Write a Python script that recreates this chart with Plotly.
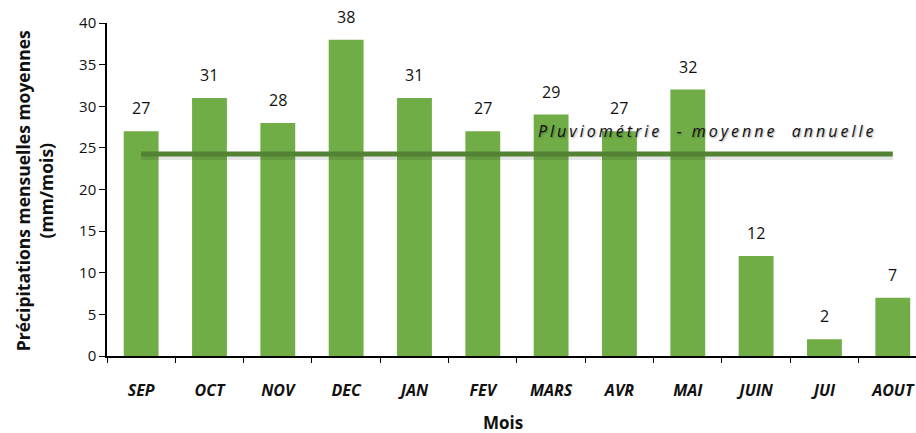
import plotly.graph_objects as go

months = ["SEP", "OCT", "NOV", "DEC", "JAN", "FEV", "MARS", "AVR", "MAI", "JUIN", "JUI", "AOUT"]
precip = [27, 31, 28, 38, 31, 27, 29, 27, 32, 12, 2, 7]
annual_mean = 24.25
y_ticks = [0, 5, 10, 15, 20, 25, 30, 35, 40]

FONT = "'Open Sans', sans-serif"
BAR = "#70AD47"
LINE = "#548235"
TXT = "#111111"

fig = go.Figure()
fig.add_trace(go.Bar(x=months, y=precip, marker=dict(color=BAR, line=dict(width=0)),
                     width=0.51, showlegend=False, hoverinfo="x+y"))
# soft shadow of mean line
fig.add_trace(go.Scatter(x=months, y=[annual_mean - 0.3] * len(months), mode="lines",
                         line=dict(color="rgba(0,0,0,0.10)", width=7), showlegend=False,
                         hoverinfo="skip"))
fig.add_trace(go.Scatter(x=months, y=[annual_mean] * len(months), mode="lines",
                         line=dict(color=LINE, width=5), showlegend=False))

for m, v in zip(months, precip):
    fig.add_annotation(x=m, y=v, text=str(v), showarrow=False, yshift=23,
                       font=dict(family=FONT, size=16, color=TXT))

fig.add_annotation(x=8.28, y=27.0, xref="x", yref="y", showarrow=False,
                   text='<span style="letter-spacing:3px"><i>Pluviométrie  - moyenne  annuelle</i></span>',
                   font=dict(family=FONT, size=16, color=TXT, shadow="1px 1px 2px rgba(0,0,0,0.35)"))

# axis titles
fig.add_annotation(x=-73 / 809, y=0.495, xref="paper", yref="paper", showarrow=False,
                   textangle=-90, xanchor="center", yanchor="middle",
                   text="<b>Précipitations mensuelles moyennes<br>(mm/mois)</b>",
                   font=dict(family=FONT, size=17.5, color=TXT))
fig.add_annotation(x=0.49, y=-66 / 333, xref="paper", yref="paper", showarrow=False,
                   xanchor="center", yanchor="middle", text="<b>Mois</b>",
                   font=dict(family=FONT, size=17, color=TXT))

fig.update_layout(
    width=916, height=433,
    margin=dict(l=107, r=0, t=23, b=77, autoexpand=False),
    plot_bgcolor="white", paper_bgcolor="white",
    font=dict(family=FONT, color=TXT),
)
fig.update_xaxes(
    type="category", range=[-0.5, 11.34], automargin=False,
    showline=True, linecolor="black", linewidth=1.5,
    ticks="outside", tickson="boundaries", ticklen=5, tickcolor="black",
    tickfont=dict(family=FONT, size=16, color=TXT, weight="bold", style="italic"),
    ticklabelstandoff=19,
    showgrid=False,
)
fig.update_yaxes(
    range=[0, 40], tickvals=y_ticks, automargin=False,
    showline=True, linecolor="black", linewidth=1.5,
    ticks="outside", ticklen=6, tickcolor="black",
    tickfont=dict(family=FONT, size=15, color=TXT),
    showgrid=False, zeroline=False,
)

fig.write_html("out.html", config={"displayModeBar": False},
               post_script="document.body.style.margin='0';document.body.style.overflow='hidden';")
